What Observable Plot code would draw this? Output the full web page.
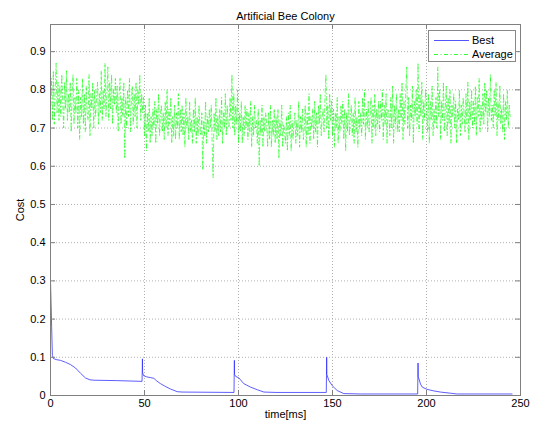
<!DOCTYPE html>
<html><head><meta charset="utf-8">
<script src="https://cdn.jsdelivr.net/npm/d3@7"></script>
<script src="https://cdn.jsdelivr.net/npm/@observablehq/plot@0.6"></script>
<style>
body{margin:0;background:#fff;}
#wrap{position:relative;width:536px;height:430px;}
#legend{position:absolute;left:428px;top:30px;width:86px;height:30px;border:1px solid #888;background:#fff;font:11px "Liberation Sans",Arial,sans-serif;color:#000;}
#legend .row{position:absolute;left:0;height:14px;line-height:14px;white-space:nowrap;}
#legend svg{position:absolute;left:5px;top:0;}
#legend span{position:absolute;left:43px;top:0;}
</style>
</head><body>
<div id="wrap"><div id="legend"></div></div>
<script>
const title = "Artificial Bee Colony";
const xLabel = "time[ms]";
const yLabel = "Cost";
const xTicks = [0, 50, 100, 150, 200, 250];
const yTicks = [0, 0.1, 0.2, 0.3, 0.4, 0.5, 0.6, 0.7, 0.8, 0.9];
const seriesNames = ["Best", "Average"];

// Best cost (time in ms, value)
const bestT = [0,0.3,0.6,1.0,1.5,3,5.3,8,10.6,13.3,16,18.6,21,23,35,48.7,48.8,48.9,49.0,49.5,51,53,55,56.5,58.5,61,63.8,67.4,70,97.6,97.7,97.8,97.9,98.5,100.2,102.8,106.4,110,113.5,120,146.7,146.8,146.9,147.0,148,149.8,152.5,156,165,195.3,195.4,195.5,195.6,196.8,197.7,200.3,203.9,207.4,212.8,216,245.5];
const bestV = [0.30,0.24,0.18,0.105,0.097,0.094,0.092,0.087,0.081,0.072,0.058,0.046,0.041,0.040,0.039,0.037,0.065,0.096,0.060,0.052,0.049,0.047,0.045,0.038,0.031,0.024,0.017,0.010,0.009,0.008,0.048,0.092,0.055,0.050,0.046,0.031,0.022,0.015,0.009,0.008,0.008,0.052,0.100,0.055,0.040,0.026,0.013,0.005,0.004,0.004,0.048,0.085,0.050,0.030,0.022,0.016,0.012,0.009,0.006,0.004,0.004];

// Average cost, sampled every 0.5 ms from 0 ms
const avgStep = 0.5;
const avgV = [
0.76,0.83,0.72,0.85,0.71,0.80,0.87,0.74,0.82,0.72,
0.81,0.73,0.84,0.77,0.70,0.82,0.75,0.85,0.72,0.79,
0.74,0.82,0.69,0.79,0.84,0.71,0.78,0.74,0.83,0.70,
0.80,0.67,0.78,0.73,0.83,0.71,0.79,0.69,0.81,0.74,
0.72,0.84,0.68,0.79,0.75,0.82,0.70,0.80,0.73,0.78,
0.82,0.71,0.79,0.74,0.85,0.72,0.80,0.75,0.87,0.73,
0.79,0.86,0.72,0.82,0.75,0.84,0.71,0.80,0.76,0.83,
0.74,0.81,0.69,0.79,0.83,0.71,0.78,0.73,0.82,0.62,
0.78,0.70,0.80,0.73,0.83,0.69,0.77,0.81,0.71,0.79,
0.73,0.82,0.70,0.80,0.76,0.84,0.72,0.79,0.74,0.78,
0.68,0.76,0.64,0.74,0.69,0.78,0.66,0.73,0.68,0.75,
0.70,0.77,0.66,0.75,0.71,0.79,0.68,0.74,0.76,0.69,
0.74,0.67,0.77,0.70,0.80,0.68,0.75,0.71,0.78,0.66,
0.73,0.68,0.76,0.67,0.74,0.70,0.79,0.67,0.75,0.69,
0.76,0.68,0.74,0.65,0.78,0.70,0.73,0.67,0.77,0.69,
0.72,0.66,0.75,0.69,0.78,0.66,0.73,0.68,0.76,0.70,
0.68,0.74,0.59,0.72,0.68,0.77,0.66,0.73,0.69,0.75,
0.70,0.76,0.66,0.57,0.74,0.69,0.78,0.67,0.73,0.68,
0.75,0.69,0.78,0.66,0.74,0.70,0.79,0.68,0.76,0.71,
0.70,0.78,0.72,0.84,0.70,0.79,0.68,0.76,0.71,0.80,
0.66,0.74,0.69,0.77,0.66,0.73,0.68,0.76,0.70,0.75,
0.67,0.74,0.69,0.77,0.65,0.73,0.68,0.76,0.70,0.72,
0.66,0.75,0.60,0.72,0.68,0.76,0.65,0.73,0.69,0.74,
0.71,0.65,0.74,0.67,0.76,0.65,0.72,0.68,0.75,0.66,
0.73,0.67,0.75,0.62,0.72,0.68,0.76,0.65,0.71,0.69,
0.66,0.73,0.64,0.74,0.68,0.76,0.64,0.72,0.67,0.71,
0.74,0.66,0.72,0.68,0.77,0.65,0.73,0.69,0.75,0.67,
0.70,0.76,0.65,0.74,0.68,0.79,0.66,0.73,0.70,0.75,
0.67,0.77,0.69,0.74,0.65,0.76,0.71,0.79,0.68,0.73,
0.75,0.69,0.78,0.84,0.70,0.76,0.67,0.79,0.72,0.77,
0.68,0.75,0.65,0.74,0.70,0.78,0.66,0.73,0.69,0.76,
0.71,0.77,0.67,0.75,0.64,0.74,0.69,0.79,0.68,0.73,
0.76,0.68,0.74,0.66,0.78,0.69,0.73,0.65,0.77,0.70,
0.74,0.68,0.78,0.71,0.80,0.67,0.75,0.70,0.77,0.69,
0.73,0.78,0.66,0.76,0.70,0.79,0.68,0.75,0.71,0.77,
0.69,0.77,0.72,0.80,0.67,0.76,0.71,0.79,0.66,0.75,
0.74,0.68,0.78,0.70,0.81,0.66,0.76,0.71,0.79,0.69,
0.75,0.69,0.79,0.72,0.82,0.67,0.77,0.71,0.80,0.86,
0.70,0.78,0.68,0.76,0.72,0.81,0.66,0.77,0.73,0.80,
0.71,0.87,0.69,0.79,0.73,0.82,0.67,0.77,0.72,0.80,
0.76,0.69,0.79,0.66,0.77,0.72,0.81,0.68,0.75,0.71,
0.78,0.70,0.86,0.73,0.80,0.67,0.77,0.72,0.82,0.69,
0.75,0.81,0.68,0.78,0.71,0.80,0.66,0.76,0.73,0.79,
0.70,0.77,0.66,0.75,0.72,0.80,0.68,0.76,0.71,0.78,
0.74,0.69,0.79,0.71,0.82,0.67,0.77,0.72,0.80,0.70,
0.77,0.71,0.81,0.68,0.78,0.73,0.83,0.69,0.76,0.72,
0.79,0.71,0.82,0.74,0.80,0.69,0.78,0.73,0.84,0.72,
0.76,0.70,0.80,0.73,0.82,0.68,0.77,0.72,0.81,0.71,
0.75,0.69,0.79,0.67,0.77,0.72,0.80,0.70,0.76,0.73
];

const colors = {Best: "#2828ff", Average: "#00ff00"};
const dash = {Best: null, Average: "4,2.5,1,2.5"};

const best = bestT.map((t, i) => ({t, v: bestV[i]}));
const avg = avgV.map((v, i) => ({t: i * avgStep, v}));

const font = '"Liberation Sans", Arial, Helvetica, sans-serif';
const axisColor = "#808080";

const chart = Plot.plot({
  width: 536, height: 430,
  marginLeft: 50, marginRight: 16, marginTop: 24, marginBottom: 35,
  style: {fontFamily: font, fontSize: "11px", background: "white", color: "#000", overflow: "visible"},
  x: {domain: [0, 250]},
  y: {domain: [0, 0.971]},
  marks: [
    Plot.gridX(xTicks, {stroke: "#b0b0b0", strokeOpacity: 1, strokeDasharray: "1,2"}),
    Plot.gridY(yTicks, {stroke: "#b0b0b0", strokeOpacity: 1, strokeDasharray: "1,2"}),
    Plot.line(avg, {x: "t", y: "v", stroke: colors.Average, strokeWidth: 0.6, strokeDasharray: dash.Average}),
    Plot.line(best, {x: "t", y: "v", stroke: colors.Best, strokeWidth: 0.75}),
    Plot.frame({stroke: axisColor}),
    Plot.tickX(xTicks, {x: d => d, insetTop: 366, stroke: axisColor}),
    Plot.tickX(xTicks, {x: d => d, insetBottom: 366, stroke: axisColor}),
    Plot.tickY(yTicks, {y: d => d, insetRight: 465, stroke: axisColor}),
    Plot.tickY(yTicks, {y: d => d, insetLeft: 465, stroke: axisColor}),
    Plot.axisX(xTicks, {tickSize: 0, tickPadding: 4, tickFormat: d => String(d), label: xLabel, labelAnchor: "center", labelOffset: 22, labelArrow: "none", fontSize: 11}),
    Plot.axisY(yTicks, {tickSize: 0, tickPadding: 5, tickFormat: d => String(d), label: yLabel, labelAnchor: "center", labelOffset: 34, labelArrow: "none", fontSize: 11}),
    Plot.text([title], {frameAnchor: "top", dy: -12, fontSize: 11, fill: "#000"})
  ]
});
document.getElementById("wrap").prepend(chart);

// Legend
const legend = document.getElementById("legend");
seriesNames.forEach((name, i) => {
  const row = document.createElement("div");
  row.className = "row";
  row.style.top = (2 + i * 14) + "px";
  row.style.width = "86px";
  const da = dash[name] ? ` stroke-dasharray="${dash[name]}"` : "";
  row.innerHTML = `<svg width="36" height="14"><line x1="0" x2="35" y1="7.5" y2="7.5" stroke="${colors[name]}" stroke-width="0.8"${da}/></svg><span>${name}</span>`;
  legend.appendChild(row);
});
</script>
</body></html>
